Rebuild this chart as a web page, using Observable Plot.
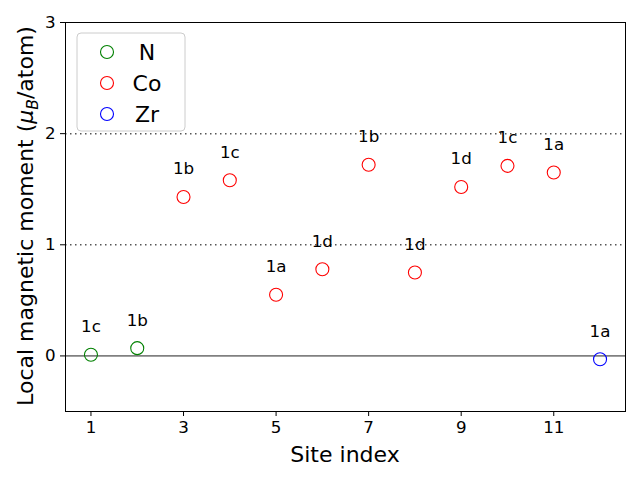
<!DOCTYPE html>
<html><head><meta charset="utf-8">
<script src="https://cdn.jsdelivr.net/npm/d3@7"></script>
<script src="https://cdn.jsdelivr.net/npm/@observablehq/plot@0.6"></script>
<style>body{margin:0;background:#fff}</style>
</head><body><div id="chart"></div>
<script>
const siteIndex = [1,2,3,4,5,6,7,8,9,10,11,12];
const moments = [0.01,0.07,1.43,1.58,0.55,0.78,1.72,0.75,1.52,1.71,1.65,-0.03];
const elements = ["N","N","Co","Co","Co","Co","Co","Co","Co","Co","Co","Zr"];
const wyckoff = ["1c","1b","1b","1c","1a","1d","1b","1d","1d","1c","1a","1a"];
const species = ["N","Co","Zr"];
const speciesColors = ["green","red","blue"];
const xTicks = [1,3,5,7,9,11];
const yTicks = [0,1,2,3];
const dottedLevels = [1,2];

const data = siteIndex.map((s,i)=>({site:s, m:moments[i], el:elements[i], lab:wyckoff[i]}));
const font = "DejaVu Sans, sans-serif";

const plot = Plot.plot({
  width: 640, height: 480,
  marginLeft: 65, marginRight: 15, marginTop: 22, marginBottom: 69,
  style: {fontFamily: font, fontSize: "16.7px", color: "black", background: "white"},
  x: {domain: [0.45, 12.55]},
  y: {domain: [-0.5, 3]},
  color: {domain: species, range: speciesColors},
  marks: [
    Plot.ruleY(dottedLevels, {stroke: "#555", strokeWidth: 1.5, strokeDasharray: "1.5,3.5"}),
    Plot.ruleY([0], {stroke: "gray", strokeWidth: 1.8}),
    Plot.dot(data, {x: "site", y: "m", stroke: "el", r: 6.5, strokeWidth: 1.1, fill: "none"}),
    Plot.text(data, {x: "site", y: "m", text: "lab", dy: -28, fontSize: 16.7, fill: "black"}),
    Plot.axisX(xTicks, {tickSize: 5, tickPadding: 5, label: null, fontSize: 16.7, tickFormat: d3.format("d")}),
    Plot.axisY(yTicks, {tickSize: 5, tickPadding: 5, label: null, fontSize: 16.7, tickFormat: d3.format("d")}),
    Plot.frame({stroke: "black", strokeWidth: 1})
  ]
});
document.getElementById("chart").appendChild(plot);

const svg = d3.select(plot);
// x label
svg.append("text").attr("x", 345).attr("y", 462).attr("text-anchor", "middle")
  .attr("font-family", font).attr("font-size", 22).attr("fill", "black").text("Site index");
// y label
const yl = svg.append("text").attr("transform", "translate(33,216) rotate(-90)")
  .attr("text-anchor", "middle").attr("font-family", font).attr("font-size", 22).attr("fill", "black");
yl.append("tspan").text("Local magnetic moment (");
yl.append("tspan").attr("font-style", "italic").text("μ");
yl.append("tspan").attr("font-style", "italic").attr("font-size", 15.5).attr("dy", 5).text("B");
yl.append("tspan").attr("dy", -5).text("/atom)");

// legend
const lg = svg.append("g").attr("transform", "translate(77,33)");
lg.append("rect").attr("width", 108).attr("height", 98).attr("rx", 4)
  .attr("fill", "white").attr("fill-opacity", 0.8).attr("stroke", "#ccc");
species.forEach((s,i)=>{
  const y = 19 + i*31;
  lg.append("circle").attr("cx", 30).attr("cy", y).attr("r", 6.5)
    .attr("fill", "none").attr("stroke", speciesColors[i]).attr("stroke-width", 1.1);
  lg.append("text").attr("x", 70).attr("y", y).attr("dy", "0.35em")
    .attr("font-family", font).attr("font-size", 22).attr("fill", "black").text(s);
});
</script></body></html>
